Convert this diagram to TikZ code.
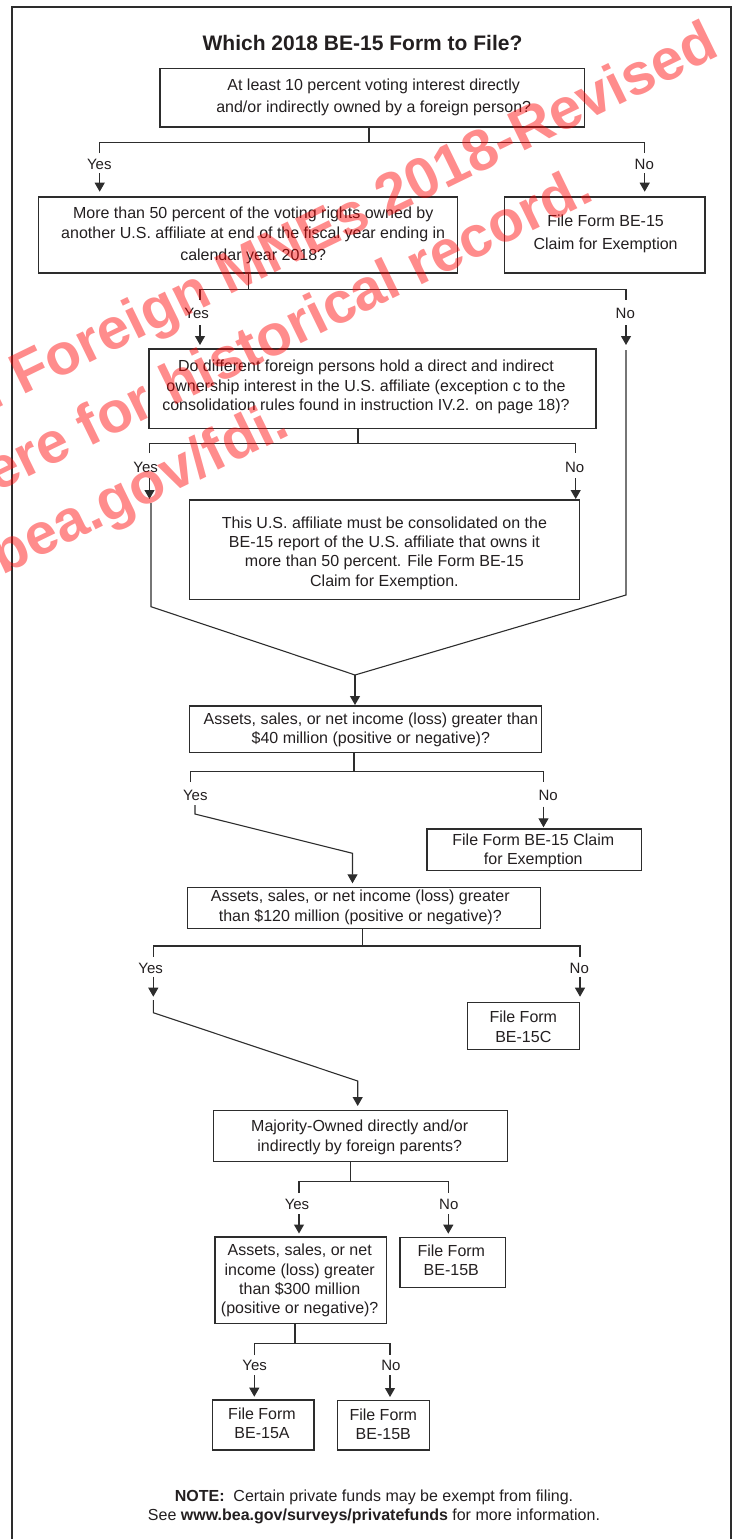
\documentclass[tikz,border=0pt]{standalone}
\usepackage{fontspec}
\setmainfont{Liberation Sans}
\usetikzlibrary{arrows.meta}
\definecolor{ink}{RGB}{35,31,32}
\definecolor{lin}{RGB}{45,45,45}
\tikzset{
  box/.style={draw=lin, line width=1.3pt, inner sep=0pt, outer sep=0pt},
  txt/.style={inner sep=0pt, anchor=base, text=ink, font=\fontsize{16}{19.3}\selectfont},
  lbl/.style={inner sep=0pt, anchor=base, text=ink, font=\fontsize{15}{18}\selectfont},
  con/.style={draw=lin, line width=1.1pt},
  arr/.style={con, -{Triangle[width=10pt,length=9pt]}},
  wmk/.style={inner sep=0pt, anchor=base west, rotate=26.0, text=red, text opacity=0.45, font=\fontsize{58}{60}\selectfont\bfseries}
}
\newcommand\bx[5]{\node[box, minimum width={#4pt-#2pt}, minimum height={#5pt-#3pt}] (#1) at ({(#2+#4)/2},{(#3+#5)/2}) {};}
\newcommand\tl[1]{\begin{tabular}[t]{@{}c@{}}#1\end{tabular}}
\begin{document}
\begin{tikzpicture}[x=1pt,y=-1pt]
\useasboundingbox (0,0) rectangle (735,1539);
% frame
\coordinate (f1) at (12.3,1545);
\coordinate (f2) at (12.3,6.7);
\coordinate (f3) at (730.7,6.7);
\coordinate (f4) at (730.7,1545);
\draw[draw=lin, line width=2pt] (f1) -- (f2) -- (f3) -- (f4);
% title
\node[inner sep=0pt, anchor=base, text=ink, font=\fontsize{21}{24}\selectfont\bfseries] (title) at (362.5,50.7) {Which 2018 BE-15 Form to File?};
% boxes
\bx{b1}{160}{68.7}{584.3}{127}
\bx{b2}{38.7}{197}{457.3}{273}
\bx{b3}{504.3}{197}{705}{273}
\bx{b4}{149}{349}{596}{428.7}
\bx{b5}{189.7}{500}{579.3}{599.3}
\bx{b6}{189.7}{706}{541.7}{752.7}
\bx{b7}{427}{829}{641.5}{870.7}
\bx{b8}{187.3}{887.3}{540.7}{928.3}
\bx{b9}{467.7}{1002.3}{579.3}{1049.3}
\bx{b10}{213.3}{1110.7}{507.3}{1161.7}
\bx{b11}{215}{1237}{386.7}{1323.3}
\bx{b12}{400}{1237.7}{505.3}{1287.7}
\bx{b13}{212.7}{1400}{314}{1450}
\bx{b14}{337.7}{1400.7}{429.3}{1450}
% texts (anchored at the baseline of their first line)
\node[txt] (t1) at (373.7,90) {\tl{At least 10 percent voting interest directly\\[3pt]and/or indirectly owned by a foreign person?}};
\node[txt] (t2) at (253.2,218.7) {\tl{More than 50 percent of the voting rights owned by\\another U.S. affiliate at end of the fiscal year ending in\\[3pt]calendar year 2018?}};
\node[txt] (t3) at (605.6,226.7) {\tl{File Form BE-15\\[3pt]Claim for Exemption}};
\node[txt] (t4) at (366,371.7) {\tl{Do different foreign persons hold a direct and indirect\\ownership interest in the U.S. affiliate (exception c to the\\consolidation rules found in instruction IV.2. on page 18)?}};
\node[txt] (t5) at (384.4,528.3) {\tl{This U.S. affiliate must be consolidated on the\\BE-15 report of the U.S. affiliate that owns it\\more than 50 percent. File Form BE-15\\Claim for Exemption.}};
\node[txt] (t6) at (370.8,724) {\tl{Assets, sales, or net income (loss) greater than\\\$40 million (positive or negative)?}};
\node[txt] (t7) at (533.3,845) {\tl{File Form BE-15 Claim\\for Exemption}};
\node[txt] (t8) at (360.3,901.7) {\tl{Assets, sales, or net income (loss) greater\\than \$120 million (positive or negative)?}};
\node[txt] (t9) at (523.3,1022.7) {\tl{File Form\\BE-15C}};
\node[txt] (t10) at (359.7,1131.7) {\tl{Majority-Owned directly and/or\\indirectly by foreign parents?}};
\node[txt] (t11) at (299.7,1255.7) {\tl{Assets, sales, or net\\income (loss) greater\\than \$300 million\\(positive or negative)?}};
\node[txt] (t12) at (451.3,1256) {\tl{File Form\\BE-15B}};
\node[txt] (t13) at (262,1419.3) {\tl{File Form\\BE-15A}};
\node[txt] (t14) at (383.3,1420) {\tl{File Form\\BE-15B}};
\node[txt, font=\fontsize{16}{18.3}\selectfont] (note) at (374,1501.7) {\tl{\textbf{NOTE:}\ \ Certain private funds may be exempt from filing.\\See \textbf{www.bea.gov/surveys/privatefunds} for more information.}};
% labels
\node[lbl] (ly1) at (99.3,169) {Yes};
\node[lbl] (ln1) at (644.3,169) {No};
\node[lbl] (ly2) at (196.7,318) {Yes};
\node[lbl] (ln2) at (625.3,318) {No};
\node[lbl] (ly3) at (145.7,472.7) {Yes};
\node[lbl] (ln3) at (574.7,472.7) {No};
\node[lbl] (ly4) at (195.3,800) {Yes};
\node[lbl] (ln4) at (548.2,800) {No};
\node[lbl] (ly5) at (150.7,973.3) {Yes};
\node[lbl] (ln5) at (579.3,973.3) {No};
\node[lbl] (ly6) at (297,1209.5) {Yes};
\node[lbl] (ln6) at (448.8,1209.5) {No};
\node[lbl] (ly7) at (254.6,1370) {Yes};
\node[lbl] (ln7) at (391,1370) {No};
% branch 1
\coordinate (j1) at (369,142.3);
\coordinate (y1a) at (99.7,153);
\coordinate (n1a) at (644.7,153);
\coordinate (y1b) at (99.7,173);
\coordinate (n1b) at (644.7,173);
\draw[con] (b1.south -| j1) -- (j1);
\draw[con] (y1a) |- (j1) -| (n1a);
\draw[arr, shorten >=5.3pt] (y1b) -- (y1b |- b2.north);
\draw[arr, shorten >=5.3pt] (n1b) -- (n1b |- b3.north);
% branch 2
\coordinate (j2) at (248.3,289.3);
\coordinate (y2a) at (200,300);
\coordinate (n2a) at (626,300);
\coordinate (y2b) at (200,325);
\coordinate (n2b) at (626,325);
\coordinate (n2c) at (626,345);
\coordinate (n2d) at (626,350);
\coordinate (n2e) at (626,595);
\coordinate (m1) at (355,675);
\draw[con] (b2.south -| j2) -- (j2);
\draw[con] (y2a) |- (j2) -| (n2a);
\draw[arr, shorten >=4pt] (y2b) -- (y2b |- b4.north);
\draw[arr] (n2b) -- (n2c);
\draw[con] (n2d) -- (n2e) -- (m1);
% branch 3
\coordinate (j3) at (358,443.3);
\coordinate (y3a) at (149.5,453);
\coordinate (n3a) at (575.7,453);
\coordinate (y3b) at (149.5,478);
\coordinate (y3c) at (149.5,499);
\coordinate (y3d) at (151,503);
\coordinate (y3e) at (151,606.7);
\coordinate (n3b) at (575.7,478);
\draw[con] (b4.south -| j3) -- (j3);
\draw[con] (y3a) |- (j3) -| (n3a);
\draw[arr] (y3b) -- (y3c);
\draw[con] (y3d) -- (y3e) -- (m1);
\draw[arr, shorten >=1pt] (n3b) -- (n3b |- b5.north);
\draw[arr, shorten >=1pt] (m1) -- (m1 |- b6.north);
% branch 4
\coordinate (j4) at (354,771.5);
\coordinate (y4a) at (190.5,782);
\coordinate (n4a) at (543.5,782);
\coordinate (y4b) at (195,805);
\coordinate (y4c) at (195,814);
\coordinate (y4d) at (352.5,853.3);
\coordinate (n4b) at (543.5,806.7);
\draw[con] (b6.south -| j4) -- (j4);
\draw[con] (y4a) |- (j4) -| (n4a);
\draw[arr, shorten >=4pt] (y4b) -- (y4c) -- (y4d) -- (y4d |- b8.north);
\draw[arr, shorten >=1.7pt] (n4b) -- (n4b |- b7.north);
% branch 5
\coordinate (j5) at (362.3,946);
\coordinate (y5a) at (153.3,956.7);
\coordinate (n5a) at (580,956.7);
\coordinate (y5b) at (153.3,976.7);
\coordinate (y5c) at (153.3,996.7);
\coordinate (y5d) at (153.3,1000);
\coordinate (y5e) at (153.3,1012.7);
\coordinate (y5f) at (357.7,1081);
\coordinate (n5b) at (580,976.7);
\draw[con] (b8.south -| j5) -- (j5);
\draw[con] (y5a) |- (j5) -| (n5a);
\draw[arr] (y5b) -- (y5c);
\draw[arr, shorten >=4.7pt] (y5d) -- (y5e) -- (y5f) -- (y5f |- b10.north);
\draw[arr, shorten >=5.6pt] (n5b) -- (n5b |- b9.north);
% branch 6
\coordinate (j6) at (350.7,1181.7);
\coordinate (y6a) at (299,1193);
\coordinate (n6a) at (448.3,1193);
\coordinate (y6b) at (299,1214);
\coordinate (n6b) at (448.3,1214);
\draw[con] (b10.south -| j6) -- (j6);
\draw[con] (y6a) |- (j6) -| (n6a);
\draw[arr, shorten >=3.5pt] (y6b) -- (y6b |- b11.north);
\draw[arr, shorten >=4pt] (n6b) -- (n6b |- b12.north);
% branch 7
\coordinate (j7) at (295,1343.3);
\coordinate (y7a) at (254.3,1355);
\coordinate (n7a) at (390,1355);
\coordinate (y7b) at (254.3,1375);
\coordinate (n7b) at (390,1375);
\draw[con] (b11.south -| j7) -- (j7);
\draw[con] (y7a) |- (j7) -| (n7a);
\draw[arr, shorten >=3.3pt] (y7b) -- (y7b |- b13.north);
\draw[arr, shorten >=3.7pt] (n7b) -- (n7b |- b14.north);
% watermark
\begin{scope}
\clip (0,0) rectangle (735,1539);
\node[wmk] (w1) at (-41,427) {of Foreign MNEs 2018-Revised};
\node[wmk] (w2) at (-36,508) {here for historical record.};
\node[wmk] (w3) at (-132,641) {www.bea.gov/fdi.};
\end{scope}
\end{tikzpicture}
\end{document}
